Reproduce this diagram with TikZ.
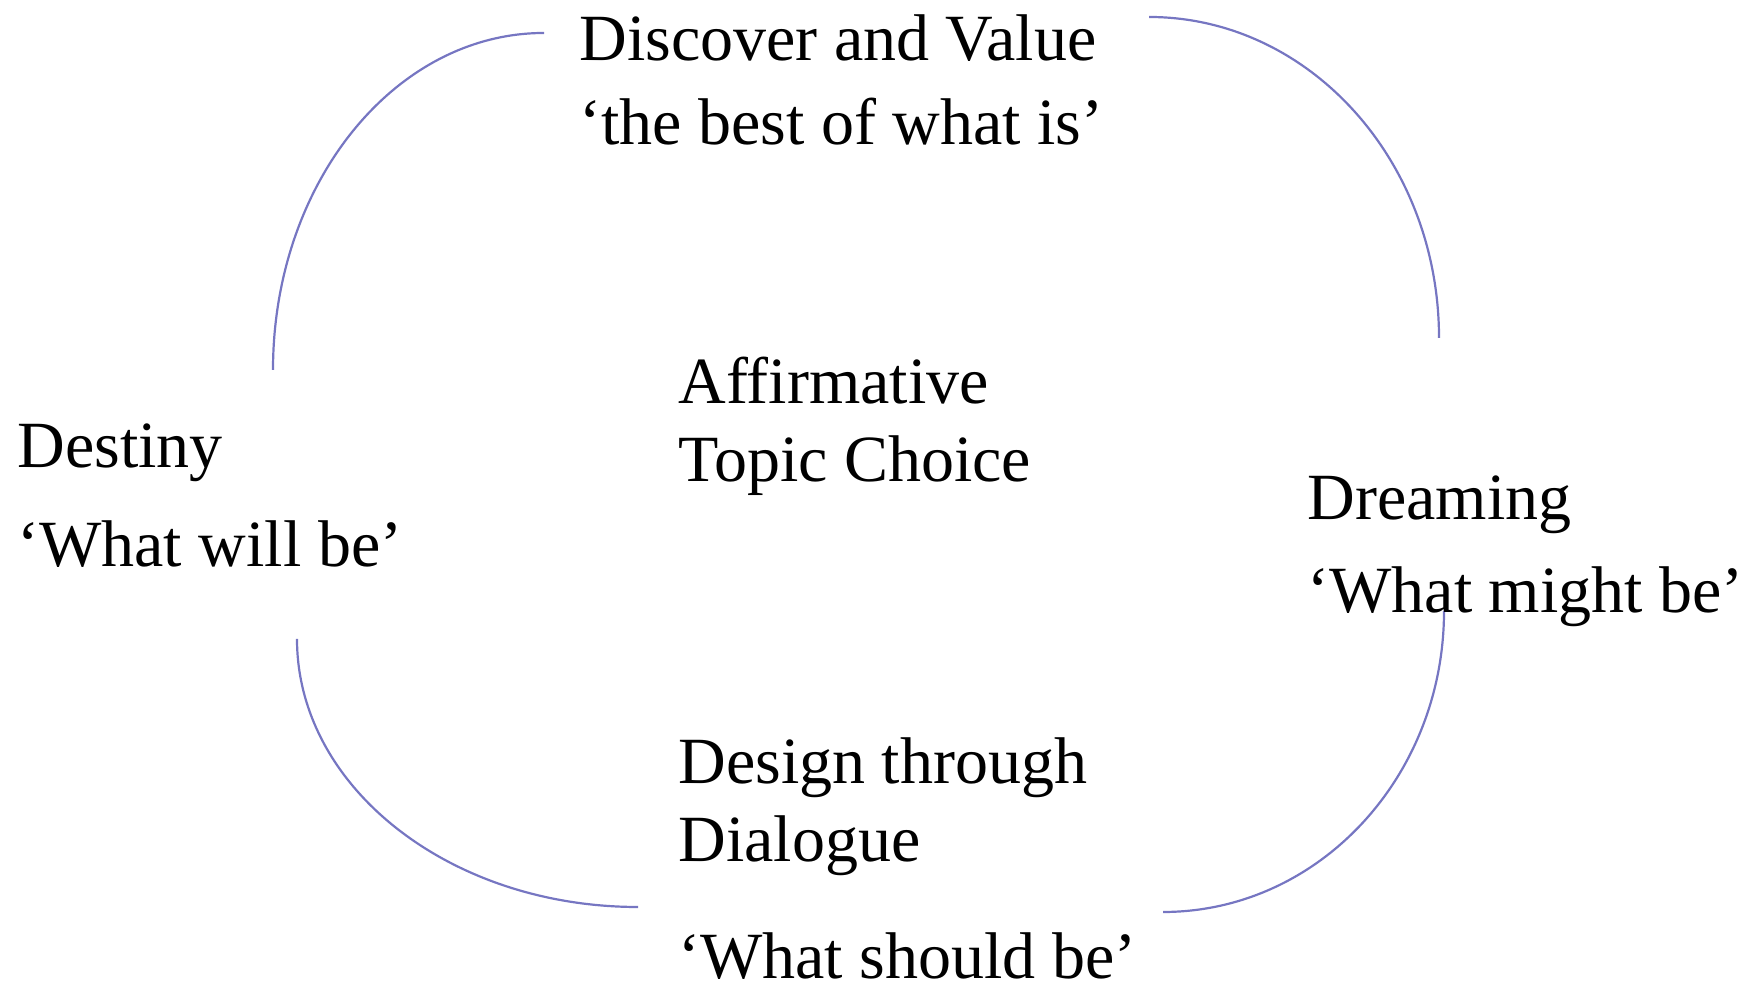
\documentclass[tikz,border=0pt]{standalone}
\usepackage{fontspec}
\setmainfont{Liberation Serif}
\begin{document}
\begin{tikzpicture}[x=0.5pt,y=0.5pt,
  loopline/.style={draw=loopblue,line width=1.1pt},
  label/.style={anchor=base west,inner sep=0pt,font=\fontsize{33}{40}\selectfont}]
\definecolor{loopblue}{RGB}{118,118,194}
\useasboundingbox (0,0) rectangle (1749,988);

% four quarter arcs forming the cycle
\coordinate (tlA) at (544,955);
\coordinate (trA) at (1149,971);
\coordinate (brA) at (1444,377);
\coordinate (blA) at (297,349);
\draw[loopline] (tlA) arc[start angle=90,end angle=180,x radius=271,y radius=337];
\draw[loopline] (trA) arc[start angle=90,end angle=0,x radius=290,y radius=321];
\draw[loopline] (brA) arc[start angle=0,end angle=-90,x radius=281,y radius=301];
\draw[loopline] (blA) arc[start angle=180,end angle=270,x radius=341,y radius=268];

% phase labels
\node[label] (disc1) at (579,927) {Discover and Value};
\node[label] (disc2) at (579,843) {‘the best of what is’};
\node[label] (aff1) at (678,584) {Affirmative};
\node[label] (aff2) at (678,506) {Topic Choice};
\node[label] (dest1) at (17,520) {Destiny};
\node[label] (dest2) at (17,421) {‘What will be’};
\node[label] (dream1) at (1307,468) {Dreaming};
\node[label] (dream2) at (1307,375) {‘What might be’};
\node[label] (des1) at (678,204) {Design through};
\node[label] (des2) at (678,126) {Dialogue};
\node[label] (des3) at (678,9) {‘What should be’};
\end{tikzpicture}
\end{document}
